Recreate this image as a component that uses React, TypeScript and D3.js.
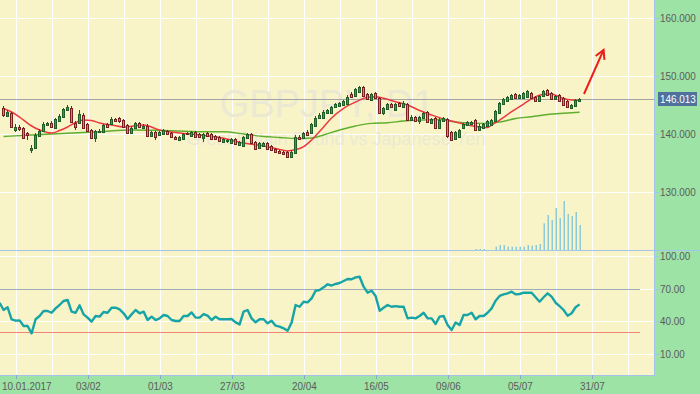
import React, { useEffect, useRef } from 'react';
import * as d3 from 'd3';

// bars are indexed from 0 (first visible day, 5 Jan 2017)
const tickIdx = [3, 21, 39, 57, 75, 93, 111, 129, 147];
const tickLabels = ['10.01.2017', '03/02', '01/03', '27/03', '20/04', '16/05', '09/06', '05/07', '31/07'];

const priceTicks = [130, 140, 150, 160];
const oscTicks = [10, 40, 70, 100];
const oscLevels = [70, 30];
const lastPrice = 146.013;

// [open, high, low, close]
const ohlc: [number, number, number, number][] = [
  [144.48, 144.83, 142.93, 143.28], [143.10, 144.14, 142.93, 143.79], [143.62, 143.79, 141.03, 141.21],
  [140.69, 141.72, 140.34, 141.21], [141.21, 141.55, 140.52, 140.86], [141.03, 141.21, 139.14, 139.31],
  [140.17, 140.34, 138.97, 139.83], [137.24, 138.10, 136.72, 137.59], [137.59, 140.17, 137.41, 139.83],
  [139.66, 140.86, 139.48, 140.52], [140.52, 142.07, 140.34, 141.72], [141.55, 142.07, 141.38, 141.90],
  [141.90, 142.24, 141.03, 141.21], [141.03, 142.76, 141.03, 142.59], [142.24, 143.45, 142.07, 143.10],
  [142.93, 144.48, 142.76, 144.31], [144.14, 145.00, 144.14, 144.66], [144.48, 144.83, 141.90, 142.07],
  [141.90, 142.24, 140.69, 141.21], [141.90, 144.14, 141.72, 143.45], [143.28, 143.62, 140.86, 141.03],
  [141.72, 141.90, 140.34, 140.52], [140.69, 140.86, 139.14, 139.31], [139.31, 140.69, 138.62, 140.52],
  [140.34, 140.86, 140.17, 140.52], [140.34, 141.72, 140.17, 141.55], [141.72, 141.90, 141.03, 141.21],
  [141.72, 142.93, 141.55, 142.59], [142.59, 142.76, 142.07, 142.24], [142.76, 142.93, 141.90, 142.24],
  [142.41, 142.59, 141.21, 141.21], [141.55, 141.72, 140.00, 140.17], [140.17, 141.38, 140.00, 141.03],
  [141.03, 142.07, 140.86, 141.90], [141.90, 142.07, 141.03, 141.21], [141.03, 141.72, 140.86, 141.38],
  [141.38, 141.72, 139.48, 139.66], [139.66, 140.52, 139.48, 140.34], [140.34, 140.52, 138.97, 139.48],
  [139.83, 140.52, 139.66, 140.34], [140.00, 140.86, 139.83, 140.69], [140.52, 140.69, 139.83, 140.00],
  [140.17, 140.34, 139.31, 139.48], [139.48, 139.66, 138.97, 139.14], [138.97, 139.66, 138.79, 139.48],
  [139.14, 140.17, 138.97, 140.00], [140.17, 140.34, 139.83, 140.00], [139.66, 140.52, 139.48, 140.34],
  [140.34, 140.52, 139.31, 139.48], [140.00, 140.17, 139.31, 139.48], [139.31, 140.17, 138.62, 140.00],
  [140.17, 140.34, 139.48, 139.66], [140.00, 140.17, 138.97, 139.14], [139.66, 139.83, 138.97, 139.14],
  [139.48, 139.66, 138.62, 138.79], [138.62, 139.31, 138.45, 139.14], [138.79, 139.14, 138.45, 138.97],
  [138.45, 139.31, 138.28, 139.14], [139.14, 139.31, 138.10, 138.28], [138.10, 138.79, 137.93, 138.62],
  [137.93, 139.66, 137.76, 139.48], [139.31, 140.17, 139.14, 140.00], [140.00, 140.17, 138.45, 138.45],
  [138.62, 138.79, 137.24, 137.41], [137.59, 138.62, 137.41, 138.45], [137.93, 138.62, 137.76, 138.45],
  [138.45, 138.62, 137.24, 137.41], [137.93, 138.10, 137.07, 137.24], [137.41, 137.59, 136.72, 136.90],
  [137.07, 137.24, 136.55, 136.72], [136.90, 137.07, 136.38, 136.55], [136.90, 137.07, 135.86, 136.03],
  [136.03, 137.24, 135.86, 136.90], [136.72, 139.83, 136.55, 139.48], [139.48, 139.83, 138.97, 139.14],
  [139.31, 140.34, 139.14, 140.17], [140.34, 140.69, 139.66, 139.83], [140.17, 141.90, 140.00, 141.72],
  [141.38, 143.10, 141.21, 142.76], [142.76, 143.62, 142.59, 143.28], [142.76, 144.14, 142.59, 143.79],
  [143.62, 144.31, 143.45, 144.14], [143.62, 144.83, 143.45, 144.66], [144.66, 145.34, 144.48, 145.17],
  [144.83, 145.52, 144.66, 145.34], [145.00, 145.86, 144.83, 145.69], [145.17, 146.72, 145.00, 146.38],
  [146.90, 147.24, 146.21, 146.38], [146.55, 147.93, 146.38, 147.76], [147.24, 148.28, 147.07, 148.10],
  [148.10, 148.28, 146.38, 146.55], [146.90, 147.07, 145.86, 146.03], [145.86, 147.07, 145.69, 146.90],
  [147.07, 147.24, 146.03, 146.21], [146.21, 146.38, 143.45, 143.62], [143.62, 144.66, 143.28, 144.48],
  [144.31, 145.34, 144.14, 145.17], [145.17, 145.34, 144.48, 144.66], [144.14, 145.34, 143.97, 145.17],
  [145.34, 145.52, 144.66, 144.83], [144.66, 145.69, 144.48, 145.34], [145.17, 145.34, 142.24, 142.41],
  [142.41, 143.28, 142.24, 142.93], [142.93, 143.10, 142.07, 142.24], [142.24, 143.10, 141.72, 142.93],
  [142.76, 143.79, 142.59, 143.62], [143.79, 143.97, 141.90, 142.07], [141.90, 142.76, 141.72, 142.59],
  [142.76, 142.93, 140.86, 141.03], [141.03, 142.76, 140.86, 142.41], [142.24, 142.93, 142.07, 142.76],
  [142.59, 142.76, 139.31, 139.66], [140.34, 140.52, 138.79, 138.97], [139.14, 140.52, 138.97, 140.34],
  [139.48, 140.86, 139.31, 140.69], [141.03, 141.90, 140.86, 141.72], [141.55, 142.24, 141.38, 142.07],
  [141.72, 142.24, 141.55, 142.07], [142.41, 142.59, 140.52, 140.69], [140.69, 141.72, 140.52, 141.38],
  [141.03, 141.90, 140.86, 141.72], [141.38, 142.41, 141.21, 142.24], [141.55, 142.59, 141.38, 142.41],
  [142.24, 144.14, 142.07, 143.97], [143.62, 145.52, 143.45, 145.34], [145.17, 146.21, 145.00, 146.03],
  [145.69, 146.55, 145.52, 146.38], [146.03, 146.90, 145.86, 146.72], [146.90, 147.07, 146.03, 146.21],
  [146.21, 146.90, 146.03, 146.72], [146.21, 147.24, 146.03, 147.07], [146.38, 147.59, 146.21, 147.41],
  [147.07, 147.24, 146.03, 146.21], [146.38, 146.55, 145.52, 145.69], [145.69, 146.72, 145.52, 146.55],
  [146.55, 147.59, 146.38, 147.41], [147.59, 147.76, 146.55, 146.72], [147.07, 147.24, 145.86, 146.03],
  [146.03, 146.72, 145.86, 146.55], [146.72, 146.90, 145.52, 145.69], [146.21, 146.38, 144.83, 145.00],
  [145.69, 145.86, 144.48, 144.66], [144.48, 145.17, 144.31, 145.00], [144.83, 146.03, 144.66, 145.86],
  [145.69, 146.21, 145.52, 146.01],
];

// moving averages: [bar index, value]
const fastMA: [number, number][] = [
  [0, 144.40], [2, 143.79], [4, 142.93], [7, 141.38], [9, 140.69], [12, 140.17], [14, 140.60], [16, 141.21],
  [18, 141.98], [20, 142.41], [22, 142.33], [24, 141.90], [27, 141.55], [30, 141.21], [35, 141.55], [39, 140.69],
  [44, 140.17], [49, 139.83], [55, 139.26], [60, 138.45], [65, 137.93], [69, 137.33], [71, 137.07], [72, 137.16],
  [75, 137.81], [77, 138.97], [80, 141.21], [82, 142.76], [85, 144.43], [88, 145.52], [91, 146.33], [93, 146.43],
  [95, 146.16], [98, 145.57], [101, 145.00], [104, 144.05], [107, 143.28], [110, 142.59], [113, 142.07],
  [116, 141.55], [119, 141.21], [121, 141.12], [122, 141.55], [124, 142.41], [127, 143.84], [130, 145.17],
  [132, 146.07], [135, 146.85], [137, 146.90], [139, 146.35], [141, 145.95], [144, 145.80],
];
const slowMA: [number, number][] = [
  [0, 139.57], [7, 139.83], [16, 140.12], [24, 140.40], [32, 140.69], [40, 140.60], [49, 140.40], [55, 140.40],
  [60, 140.00], [65, 139.57], [69, 139.40], [73, 139.22], [77, 139.31], [80, 139.83], [84, 140.69], [88, 141.38],
  [92, 141.84], [96, 141.95], [100, 142.24], [105, 142.41], [109, 142.50], [112, 142.16], [116, 141.90],
  [120, 141.84], [124, 142.07], [128, 142.67], [132, 142.98], [136, 143.36], [140, 143.57], [144, 143.74],
];

// oscillator (lower pane), one value per bar
const osc = [
  50.5, 53, 42, 40.7, 41, 35.8, 35.8, 29.1, 42, 45, 49.6, 49.6, 48, 52, 55.1, 58.8, 59.7, 49, 48, 54.8,
  46.5, 43.5, 39.8, 45, 44.4, 48.7, 48, 52.6, 52.6, 51.1, 47.5, 42.2, 46.5, 50.5, 47.5, 49, 41.3, 44.4, 41.3, 42.8,
  45.9, 45, 41.3, 40.4, 40.4, 45, 45, 48.3, 43.5, 43.5, 46.8, 45.3, 41.3, 44.4, 42, 42, 42, 42.2, 39.2, 37.3,
  49, 50.5, 42.8, 39.2, 42, 42, 38.3, 40.7, 36.1, 35.2, 33.7, 31.5, 38.9, 55.1, 53.5, 58.1, 57.5, 61.2, 68.2, 68.9,
  71.3, 74.1, 73, 74.4, 75.3, 77.1, 79, 78.7, 80.5, 81, 71.9, 66.4, 68.2, 63.4, 49.9, 52.6, 55.1, 53.5, 54.1, 53.5,
  53.5, 42.8, 43.5, 42.8, 45, 48, 42.8, 42.8, 37.6, 44.4, 45, 36.7, 32.1, 39, 36.7, 45.9, 45.9, 48, 42, 45,
  45, 48, 52, 59, 63.4, 64.9, 65.8, 67.3, 64.9, 65.2, 66.4, 66.4, 66.4, 62.2, 58.1, 62.2, 65.8, 62.8, 57.2, 54.1,
  50.5, 45.3, 47.5, 53, 55.7,
];
const oscBefore = 57; // value of the bar just left of the window

// volume only exists for the last bars
const volStart = 118;
const volumes = [100, 100, 100, 0, 0, 330, 500, 500, 330, 330, 330, 330, 330, 500, 430, 500, 600,
  2670, 3500, 3000, 4200, 3200, 4900, 3600, 3400, 3800, 2500];

// arrow annotation: [bar index, price]
const arrowFrom: [number, number] = [145.1, 146.9];
const arrowTo: [number, number] = [150.0, 154.5];

export default function App() {
  const ref = useRef<SVGSVGElement>(null);

  useEffect(() => {
    if (!ref.current) return;
    const svg = d3.select(ref.current);
    svg.selectAll('*').remove();

    const W = 700, H = 394;
    const plotR = 654, sep = 250, bottom = 375;
    const bg = '#f8f4c7', panel = '#9ee3a6', border = '#a4c4ec', grid = '#ffffff';
    const font = '"Liberation Sans", Arial, sans-serif';

    const x = d3.scaleLinear().domain([-0.9, 162.6]).range([0, plotR]);
    const y = d3.scaleLinear().domain([130, 160]).range([192, 18]);
    const yo = d3.scaleLinear().domain([0, 100]).range([365, 256.1]);
    const yv = d3.scaleLinear().domain([0, 10000]).range([sep, sep - 100]);
    const crisp = (v: number) => Math.round(v) + 0.5;

    // narrow-looking labels: squeeze the text horizontally
    const squeeze = (sel: d3.Selection<SVGTextElement, unknown, null, undefined>, k = 0.9) => {
      const n = sel.node();
      if (n) sel.attr('textLength', n.getComputedTextLength() * k).attr('lengthAdjust', 'spacingAndGlyphs');
    };

    svg.append('rect').attr('width', W).attr('height', H).attr('fill', panel);
    svg.append('rect').attr('width', plotR).attr('height', bottom).attr('fill', bg);

    // grid
    const gridIdx = d3.range(3, 160, 9);
    svg.append('g').selectAll('line').data(gridIdx).join('line')
      .attr('x1', d => crisp(x(d))).attr('x2', d => crisp(x(d)))
      .attr('y1', 0).attr('y2', bottom).attr('stroke', grid);
    svg.append('g').selectAll('line').data(priceTicks).join('line')
      .attr('x1', 0).attr('x2', plotR).attr('y1', d => crisp(y(d))).attr('y2', d => crisp(y(d))).attr('stroke', grid);
    svg.append('g').selectAll('line').data(oscTicks).join('line')
      .attr('x1', 0).attr('x2', plotR).attr('y1', d => crisp(yo(d))).attr('y2', d => crisp(yo(d))).attr('stroke', grid);

    // watermark
    svg.append('text').attr('x', 327).attr('y', 117).attr('text-anchor', 'middle')
      .style('font-family', font).style('font-size', '38px')
      .attr('fill', '#ece9d2').text('GBPJPY, D1');
    svg.append('text').attr('x', 336).attr('y', 145).attr('text-anchor', 'middle')
      .style('font-family', font).style('font-size', '18px')
      .attr('fill', '#ece9d2').text('Great Britain Pound vs Japanese Yen');

    // volume
    svg.append('g').selectAll('rect').data(volumes).join('rect')
      .attr('x', (d, i) => Math.round(x(volStart + i)) - 0.5).attr('width', 1.5)
      .attr('y', d => yv(d)).attr('height', d => sep - yv(d)).attr('fill', '#8ec9d6');

    // last price line
    svg.append('line').attr('x1', 0).attr('x2', plotR)
      .attr('y1', crisp(y(lastPrice))).attr('y2', crisp(y(lastPrice))).attr('stroke', '#a3a3a3');

    // moving averages
    const maLine = d3.line<[number, number]>().x(d => x(d[0])).y(d => y(d[1])).curve(d3.curveMonotoneX);
    svg.append('path').attr('d', maLine(slowMA)).attr('fill', 'none').attr('stroke', '#5fae2e').attr('stroke-width', 1.4);
    svg.append('path').attr('d', maLine(fastMA)).attr('fill', 'none').attr('stroke', '#ea3a40').attr('stroke-width', 1.5);

    // candles
    const cg = svg.append('g');
    ohlc.forEach(([o, h, l, c], i) => {
      const cx = Math.round(x(i) - 0.5) + 0.5;
      const up = c >= o;
      const dark = up ? '#1f5e27' : '#7a1f1f';
      cg.append('line').attr('x1', cx).attr('x2', cx)
        .attr('y1', Math.round(y(h))).attr('y2', Math.round(y(l))).attr('stroke', dark);
      const top = Math.round(y(Math.max(o, c))) + 0.5;
      const bot = Math.max(Math.round(y(Math.min(o, c))) + 0.5, top + 1);
      cg.append('rect').attr('x', cx - 1).attr('width', 2).attr('y', top).attr('height', bot - top)
        .attr('fill', up ? '#3c9a47' : '#e07a78').attr('stroke', dark);
    });

    // borders
    svg.append('line').attr('x1', 0).attr('x2', W).attr('y1', sep + 0.5).attr('y2', sep + 0.5).attr('stroke', border);
    svg.append('line').attr('x1', plotR + 0.5).attr('x2', plotR + 0.5).attr('y1', 0).attr('y2', bottom).attr('stroke', border);
    svg.append('line').attr('x1', 0).attr('x2', plotR + 1).attr('y1', bottom + 0.5).attr('y2', bottom + 0.5).attr('stroke', border);

    // oscillator levels and line
    svg.append('g').selectAll('line').data(oscLevels).join('line')
      .attr('x1', 0).attr('x2', 640).attr('y1', d => crisp(yo(d))).attr('y2', d => crisp(yo(d)))
      .attr('stroke', (d, i) => (i === 0 ? '#9eabb8' : '#f08276'));
    const oscPts: [number, number][] = [[-1, oscBefore], ...osc.map((v, i) => [i, v] as [number, number])];
    const oscLine = d3.line<[number, number]>().x(d => x(d[0])).y(d => yo(d[1]));
    svg.append('path').attr('d', oscLine(oscPts)).attr('fill', 'none')
      .attr('stroke', '#17a4a6').attr('stroke-width', 2.4).attr('stroke-linejoin', 'round');

    // right axis
    const ra = svg.append('g').style('font-family', font).style('font-size', '11px').attr('fill', '#5b5b5b');
    priceTicks.forEach(t => {
      ra.append('line').attr('x1', plotR).attr('x2', plotR + 5).attr('y1', crisp(y(t))).attr('y2', crisp(y(t))).attr('stroke', border);
      squeeze(ra.append('text').attr('x', plotR + 6).attr('y', y(t) + 4).text(t.toFixed(3)));
    });
    oscTicks.forEach(t => {
      ra.append('line').attr('x1', plotR).attr('x2', plotR + 5).attr('y1', crisp(yo(t))).attr('y2', crisp(yo(t))).attr('stroke', border);
      squeeze(ra.append('text').attr('x', plotR + 6).attr('y', yo(t) + 4).text(t.toFixed(2)));
    });

    // price tag
    svg.append('rect').attr('x', 658).attr('y', Math.round(y(lastPrice)) - 7).attr('width', 39).attr('height', 14)
      .attr('fill', '#4f719c');
    squeeze(svg.append('text').attr('x', 660).attr('y', y(lastPrice) + 4)
      .style('font-family', font).style('font-size', '11px').attr('fill', '#ffffff').text(lastPrice.toFixed(3)));

    // bottom axis
    const ba = svg.append('g').style('font-family', font).style('font-size', '11.5px').attr('fill', '#5b5b5b');
    tickIdx.forEach((t, i) => {
      const tx = crisp(x(t));
      ba.append('line').attr('x1', tx).attr('x2', tx).attr('y1', bottom).attr('y2', bottom + 4).attr('stroke', '#8fa9c4');
      squeeze(ba.append('text').attr('x', i === 0 ? 2 : tx).attr('y', 390)
        .attr('text-anchor', i === 0 ? 'start' : 'middle').text(tickLabels[i]), 0.86);
    });

    // arrow
    const ax0 = x(arrowFrom[0]), ay0 = y(arrowFrom[1]);
    const ax1 = x(arrowTo[0]), ay1 = y(arrowTo[1]);
    const ang = Math.atan2(ay1 - ay0, ax1 - ax0);
    const hl = 10, spread = 0.5;
    const head = [
      [ax1 - hl * Math.cos(ang - spread), ay1 - hl * Math.sin(ang - spread)],
      [ax1, ay1],
      [ax1 - hl * Math.cos(ang + spread), ay1 - hl * Math.sin(ang + spread)],
    ] as [number, number][];
    svg.append('line').attr('x1', ax0).attr('y1', ay0).attr('x2', ax1).attr('y2', ay1)
      .attr('stroke', '#ee1c1c').attr('stroke-width', 2);
    svg.append('path').attr('d', d3.line()(head)).attr('fill', 'none')
      .attr('stroke', '#ee1c1c').attr('stroke-width', 2);
  }, []);

  return <svg ref={ref} width={700} height={394} style={{ position: 'absolute', left: 0, top: 0 }} />;
}
